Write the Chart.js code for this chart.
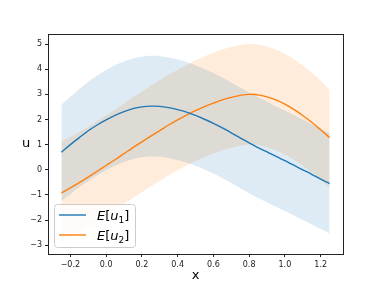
<!DOCTYPE html>
<html>
<head>
<meta charset="utf-8">
<script src="https://cdn.jsdelivr.net/npm/chart.js@4"></script>
<style>
  html, body { margin: 0; padding: 0; background: #fff; }
  #wrap { width: 381px; height: 286px; position: relative; }
</style>
</head>
<body>
<div id="wrap"><canvas id="myChart"></canvas></div>
<script>
// x positions the curves were read at
const xs = [-0.25, -0.2, -0.15, -0.1, -0.05, 0.0, 0.05, 0.1, 0.15, 0.2, 0.25, 0.3, 0.35, 0.4, 0.45, 0.5,
            0.55, 0.6, 0.65, 0.7, 0.75, 0.8, 0.85, 0.9, 0.95, 1.0, 1.05, 1.1, 1.15, 1.2, 1.25];

// E[u1] and its band
const u1Mean = [0.70, 1.00, 1.28, 1.55, 1.78, 1.98, 2.16, 2.31, 2.43, 2.50, 2.53, 2.52, 2.47, 2.39, 2.29, 2.16,
                2.01, 1.85, 1.67, 1.47, 1.27, 1.07, 0.88, 0.71, 0.53, 0.36, 0.18, 0.00, -0.18, -0.37, -0.55];
const u1Upper = [2.58, 2.90, 3.21, 3.50, 3.75, 3.97, 4.16, 4.31, 4.43, 4.50, 4.53, 4.52, 4.47, 4.39, 4.29, 4.16,
                 4.01, 3.85, 3.67, 3.47, 3.27, 3.07, 2.88, 2.71, 2.53, 2.36, 2.18, 2.00, 1.82, 1.63, 1.45];
const u1Lower = [-1.25, -0.97, -0.70, -0.45, -0.22, -0.02, 0.16, 0.31, 0.43, 0.50, 0.53, 0.52, 0.47, 0.39, 0.29, 0.16,
                 0.01, -0.15, -0.33, -0.53, -0.73, -0.93, -1.12, -1.29, -1.47, -1.64, -1.82, -2.00, -2.18, -2.36, -2.53];

// E[u2] and its band
const u2Mean = [-0.92, -0.72, -0.51, -0.29, -0.06, 0.17, 0.40, 0.64, 0.88, 1.11, 1.34, 1.56, 1.78, 1.98, 2.17, 2.35,
                2.51, 2.65, 2.78, 2.88, 2.96, 3.00, 2.98, 2.90, 2.78, 2.61, 2.40, 2.16, 1.89, 1.59, 1.28];
const u2Upper = [1.12, 1.30, 1.50, 1.71, 1.94, 2.17, 2.40, 2.64, 2.88, 3.11, 3.34, 3.56, 3.78, 3.98, 4.17, 4.35,
                 4.51, 4.65, 4.78, 4.88, 4.96, 5.00, 4.98, 4.90, 4.78, 4.61, 4.40, 4.15, 3.87, 3.54, 3.17];
const u2Lower = [-2.92, -2.72, -2.51, -2.29, -2.06, -1.83, -1.60, -1.36, -1.12, -0.89, -0.66, -0.44, -0.22, -0.02, 0.17, 0.35,
                 0.51, 0.65, 0.78, 0.88, 0.96, 1.00, 0.98, 0.90, 0.78, 0.61, 0.40, 0.16, -0.11, -0.41, -0.72];

// tick labels
const xTicks = [-0.2, 0.0, 0.2, 0.4, 0.6, 0.8, 1.0, 1.2];
const yTicks = [-3, -2, -1, 0, 1, 2, 3, 4, 5];
const legendNames = ["1", "2"];

const BLUE = "#1f77b4";
const ORANGE = "#ff7f0e";

function pts(arr) {
    return xs.map((x, i) => ({ x: x, y: arr[i] }));
}

function minus(s) {
    return s.replace("-", "\u2212");
}

// draws the frame, axis labels and the legend inside the plot
const decorations = {
    id: "decorations",
    afterDraw(chart) {
        const ctx = chart.ctx;
        const a = chart.chartArea;
        ctx.save();
        ctx.strokeStyle = "#222";
        ctx.lineWidth = 1;
        ctx.strokeRect(Math.round(a.left) + 0.5, Math.round(a.top) + 0.5,
                       Math.round(a.right - a.left), Math.round(a.bottom - a.top));

        ctx.fillStyle = "#000";
        ctx.font = "13px 'DejaVu Sans'";
        ctx.textAlign = "center";
        ctx.textBaseline = "middle";
        ctx.fillText("u", 26, (a.top + a.bottom) / 2);
        ctx.fillText("x", (a.left + a.right) / 2, 276);

        // legend box
        const bx = a.left + 6, by = a.bottom - 50, bw = 81, bh = 43;
        ctx.fillStyle = "rgba(255,255,255,0.8)";
        ctx.strokeStyle = "#ccc";
        ctx.lineWidth = 1;
        ctx.beginPath();
        ctx.roundRect(bx + 0.5, by + 0.5, bw, bh, 3);
        ctx.fill();
        ctx.stroke();

        const colors = [BLUE, ORANGE];
        legendNames.forEach((n, i) => {
            const y = by + 11 + i * 20;
            ctx.strokeStyle = colors[i];
            ctx.lineWidth = 1.4;
            ctx.beginPath();
            ctx.moveTo(bx + 5, y);
            ctx.lineTo(bx + 32, y);
            ctx.stroke();

            ctx.fillStyle = "#000";
            ctx.textAlign = "left";
            ctx.textBaseline = "alphabetic";
            let tx = bx + 43;
            const base = y + 5;
            ctx.font = "italic 13px 'DejaVu Sans'";
            ctx.fillText("E", tx, base); tx += ctx.measureText("E").width;
            ctx.font = "13px 'DejaVu Sans'";
            ctx.fillText("[", tx, base); tx += ctx.measureText("[").width;
            ctx.font = "italic 13px 'DejaVu Sans'";
            ctx.fillText("u", tx, base); tx += ctx.measureText("u").width;
            ctx.font = "9px 'DejaVu Sans'";
            ctx.fillText(n, tx, base + 3); tx += ctx.measureText(n).width;
            ctx.font = "13px 'DejaVu Sans'";
            ctx.fillText("]", tx, base);
        });
        ctx.restore();
    }
};

const band = (data, color) => ({
    data: data,
    borderWidth: 0,
    pointRadius: 0,
    backgroundColor: color,
    tension: 0.3,
    order: 2
});

new Chart(document.getElementById("myChart"), {
    type: "line",
    data: {
        datasets: [
            Object.assign(band(pts(u1Upper), "rgba(31,119,180,0.15)"), { fill: "+1" }),
            Object.assign(band(pts(u1Lower), "rgba(31,119,180,0.15)"), { fill: false }),
            Object.assign(band(pts(u2Upper), "rgba(255,127,14,0.15)"), { fill: "+1" }),
            Object.assign(band(pts(u2Lower), "rgba(255,127,14,0.15)"), { fill: false }),
            { data: pts(u1Mean), borderColor: BLUE, borderWidth: 1.4, pointRadius: 0, tension: 0.3, fill: false, order: 0 },
            { data: pts(u2Mean), borderColor: ORANGE, borderWidth: 1.4, pointRadius: 0, tension: 0.3, fill: false, order: 0 }
        ]
    },
    options: {
        responsive: true,
        maintainAspectRatio: false,
        animation: false,
        layout: { padding: { left: 0, top: 34, right: 38, bottom: 0 } },
        plugins: {
            legend: { display: false },
            tooltip: { enabled: false }
        },
        scales: {
            x: {
                type: "linear",
                min: -0.325,
                max: 1.325,
                afterFit(scale) { scale.height = 32; },
                afterBuildTicks(scale) { scale.ticks = xTicks.map(v => ({ value: v })); },
                grid: { drawOnChartArea: false, drawTicks: true, tickLength: 3, color: "#222" },
                border: { display: false },
                ticks: {
                    padding: 3,
                    color: "#222",
                    font: { family: "DejaVu Sans", size: 8 },
                    maxRotation: 0,
                    callback: v => minus(v.toFixed(1))
                }
            },
            y: {
                min: -3.35,
                max: 5.4,
                afterFit(scale) { scale.width = 48; },
                afterBuildTicks(scale) { scale.ticks = yTicks.map(v => ({ value: v })); },
                grid: { drawOnChartArea: false, drawTicks: true, tickLength: 3, color: "#222" },
                border: { display: false },
                ticks: {
                    padding: 3,
                    color: "#222",
                    font: { family: "DejaVu Sans", size: 8 },
                    callback: v => minus(String(v))
                }
            }
        }
    },
    plugins: [decorations]
});
</script>
</body>
</html>
